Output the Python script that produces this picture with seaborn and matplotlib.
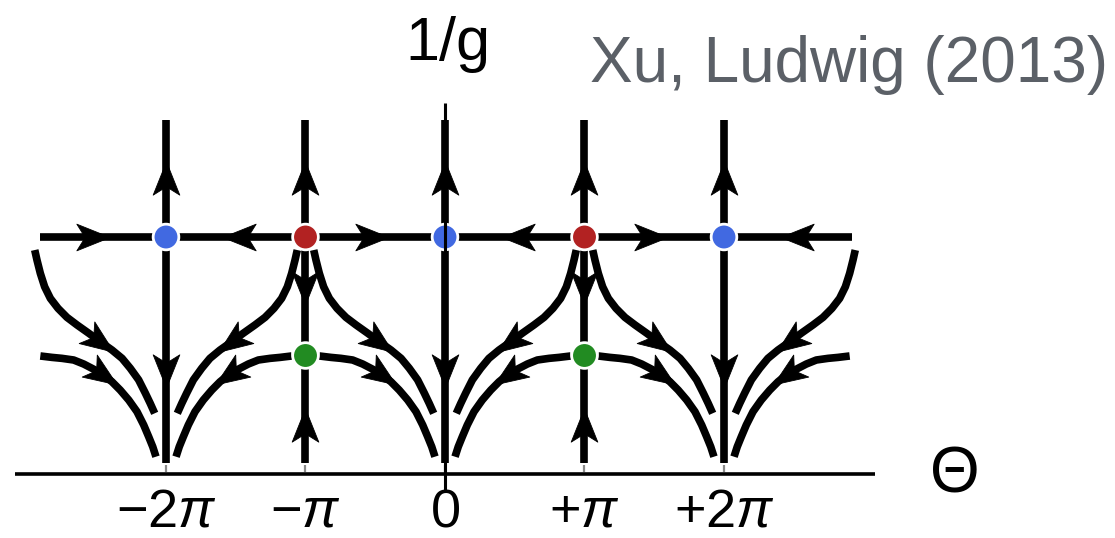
import numpy as np
import pandas as pd
import matplotlib
matplotlib.use("Agg")
import matplotlib.pyplot as plt
import seaborn as sns
from matplotlib.markers import MarkerStyle
from matplotlib.path import Path
from matplotlib.transforms import Affine2D

# ---------------- data (theta in units of pi, vertical = 1/g) ----------------
tick_positions = [-2, -1, 0, 1, 2]
tick_labels = [r"$-2\pi$", r"$-\pi$", r"$0$", r"$+\pi$", r"$+2\pi$"]

sink_theta = [-2, 0, 2]          # blue fixed points / columns where flows sink
red_theta = [-1, 1]              # red fixed points
green_theta = [-1, 1]            # green fixed points
fixed_row = 1.0                  # 1/g of blue & red fixed points
green_row = 0.5                  # 1/g of green fixed points

# flow line: distance from sink column (units of pi), 1/g
outer_d = [0.941, 0.925, 0.901, 0.870, 0.829, 0.774, 0.710, 0.638, 0.554, 0.471,
           0.387, 0.315, 0.256, 0.196, 0.148, 0.113, 0.081]
outer_g = [0.945, 0.903, 0.847, 0.790, 0.741, 0.699, 0.661, 0.629, 0.594, 0.558,
           0.523, 0.488, 0.446, 0.397, 0.341, 0.298, 0.256]
inner_d = [0.901, 0.817, 0.746, 0.662, 0.590, 0.518, 0.447, 0.387, 0.328, 0.267,
           0.208, 0.160, 0.124, 0.095, 0.072]
inner_g = [0.498, 0.492, 0.488, 0.481, 0.464, 0.442, 0.418, 0.389, 0.354, 0.312,
           0.263, 0.207, 0.157, 0.115, 0.073]

# ---------------- layout constants ----------------
VLINE_BOTTOM, VLINE_TOP = 0.046, 1.494
HLINE_LEFT, HLINE_RIGHT = -2.903, 2.918
AXIS_LEFT, AXIS_RIGHT = -3.08, 3.08
VAXIS_BOTTOM, VAXIS_TOP = -0.076, 1.565
THICK = 5.5
THIN = 2.6
ARROW_LEN = 24   # points

sns.set_theme(style="white")
plt.rcParams["font.family"] = ["Liberation Sans", "DejaVu Sans"]
plt.rcParams["mathtext.fontset"] = "custom"
plt.rcParams["mathtext.rm"] = "Liberation Sans"
plt.rcParams["mathtext.it"] = "Liberation Sans:italic"

fig = plt.figure(figsize=(11.15, 5.38), dpi=100)
ax = fig.add_axes([0, 0, 1, 1])
ax.set_xlim(-3.190, 4.803)
ax.set_ylim(-0.270, 2.0)
ax.axis("off")

# ---------------- build line table ----------------
rows = []
cid = 0
for c in sink_theta:
    for s in (-1, 1):
        for dd, gg in ((outer_d, outer_g), (inner_d, inner_g)):
            for d, g in zip(dd, gg):
                rows.append((cid, c + s * d, g))
            cid += 1
for x in tick_positions:
    rows.append((cid, x, VLINE_BOTTOM))
    rows.append((cid, x, VLINE_TOP))
    cid += 1
rows.append((cid, HLINE_LEFT, fixed_row))
rows.append((cid, HLINE_RIGHT, fixed_row))
cid += 1
lines = pd.DataFrame(rows, columns=["curve", "theta", "inv_g"])

sns.lineplot(data=lines, x="theta", y="inv_g", units="curve", estimator=None,
             sort=False, color="black", lw=THICK, solid_capstyle="butt",
             legend=False, ax=ax, zorder=2)

# ---------------- arrowheads ----------------
arrow_path = Path([(0.5, 0.0), (-0.5, 0.40), (-0.25, 0.0), (-0.5, -0.40), (0.5, 0.0)],
                  [Path.MOVETO, Path.LINETO, Path.LINETO, Path.LINETO, Path.CLOSEPOLY])


def arrow(x, y, dx, dy):
    p0 = ax.transData.transform((x, y))
    p1 = ax.transData.transform((x + dx, y + dy))
    ang = np.degrees(np.arctan2(p1[1] - p0[1], p1[0] - p0[0]))
    m = MarkerStyle(arrow_path, transform=Affine2D().rotate_deg(ang))
    ax.plot([x], [y], marker=m, ms=ARROW_LEN, color="black", mec="black",
            mew=0.6, linestyle="none", zorder=3)


for x in tick_positions:
    arrow(x, 1.249, 0, 1)
for x in sink_theta:
    arrow(x, 0.435, 0, -1)
for x in red_theta:
    arrow(x, 0.785, 0, -1)
    arrow(x, 0.207, 0, 1)
for c in sink_theta:
    for s in (-1, 1):
        arrow(c + s * 0.52, fixed_row, -s, 0)
        for dd, gg, dpos in ((outer_d, outer_g, 0.47), (inner_d, inner_g, 0.45)):
            dr = np.array(dd)[::-1]
            gr = np.array(gg)[::-1]
            g0 = np.interp(dpos, dr, gr)
            ga = np.interp(dpos - 0.03, dr, gr)
            gb = np.interp(dpos + 0.03, dr, gr)
            arrow(c + s * dpos, g0, -s * 0.06, ga - gb)

# ---------------- fixed points ----------------
pts = pd.DataFrame({
    "theta": list(sink_theta) + list(red_theta) + list(green_theta),
    "inv_g": [fixed_row] * len(sink_theta) + [fixed_row] * len(red_theta)
             + [green_row] * len(green_theta),
    "kind": ["blue"] * len(sink_theta) + ["red"] * len(red_theta)
            + ["green"] * len(green_theta),
})
sns.scatterplot(data=pts, x="theta", y="inv_g", hue="kind",
                palette={"blue": "#4169E1", "red": "#B22222", "green": "#228B22"},
                s=18.5 ** 2, edgecolor="white", linewidth=2.0, legend=False,
                ax=ax, zorder=4)

# ---------------- axes lines ----------------
ax.plot([AXIS_LEFT, AXIS_RIGHT], [0, 0], color="black", lw=THIN,
        solid_capstyle="butt", zorder=5)
ax.plot([0, 0], [VAXIS_BOTTOM, VAXIS_TOP], color="black", lw=THIN * 0.85,
        solid_capstyle="butt", zorder=5)
for x in tick_positions:
    ax.plot([x, x], [0.008, 0.040], color="#8a8a8a", lw=1.6,
            solid_capstyle="butt", zorder=1)

# ---------------- texts ----------------
for x, lab in zip(tick_positions, tick_labels):
    ax.text(x, -0.222, lab, ha="center", va="baseline", fontsize=39, color="black")
ax.text(0.02, 1.747, "1/g", ha="center", va="baseline", fontsize=44, color="black")
ax.text(1.04, 1.654, "Xu, Ludwig (2013)", ha="left", va="baseline",
        fontsize=46, color="#5b6067")
ax.text(3.656, -0.076, "\u0398", ha="center", va="baseline", fontsize=46,
        color="black")

fig.savefig("out.png", dpi=100)
